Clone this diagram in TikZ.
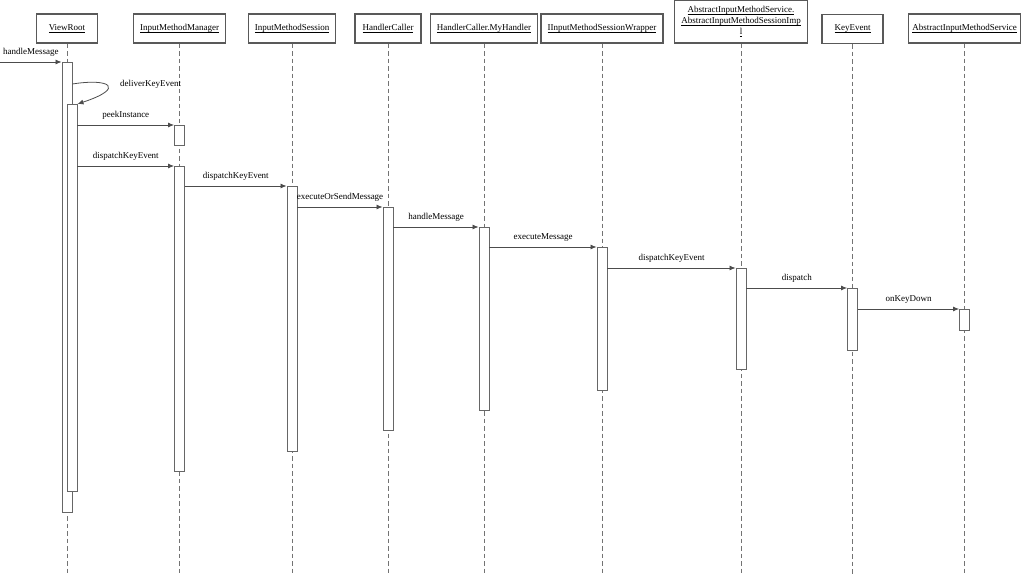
\documentclass[tikz,border=0pt]{standalone}
\usepackage{fontspec}
\setmainfont{Liberation Serif}
\usetikzlibrary{arrows.meta}

% underline with a fixed depth, so stacked lines do not clash
\newcommand\ulname[1]{\setbox0\hbox{#1}\dp0=0.5pt\underline{\box0}}

\tikzset{
	obj/.style={draw=black!65, line width=1.1pt, fill=white, inner sep=1pt, align=center, font=\fontsize{9}{11}\selectfont},
	life/.style={draw=black!55, line width=0.9pt, dash pattern=on 4.5pt off 3pt},
	bar/.style={draw=black!60, line width=0.9pt, fill=white, minimum width=10pt, inner sep=0pt, anchor=north},
	msg/.style={draw=black!70, line width=0.8pt, -{Latex[length=6pt,width=5pt]}},
	lbl/.style={font=\fontsize{9}{11}\selectfont, inner sep=1pt}
}

\begin{document}
\begin{tikzpicture}[x=1pt,y=-1pt]
	
	\useasboundingbox (0,0) rectangle (1024,588);
	
	% objects
	\node[obj, minimum width=61pt, minimum height=29pt] (vr) at (67,28.5) {\ulname{ViewRoot}};
	\node[obj, minimum width=92pt, minimum height=29pt] (imm) at (179.5,28.5) {\ulname{InputMethodManager}};
	\node[obj, minimum width=87pt, minimum height=29pt] (ims) at (292,28.5) {\ulname{InputMethodSession}};
	\node[obj, minimum width=66pt, minimum height=29pt] (hc) at (388,28.5) {\ulname{HandlerCaller}};
	\node[obj, minimum width=107pt, minimum height=29pt] (mh) at (484,28.5) {\ulname{HandlerCaller.MyHandler}};
	\node[obj, minimum width=122pt, minimum height=29pt] (sw) at (602,28.5) {\ulname{IInputMethodSessionWrapper}};
	\node[obj, minimum width=133pt, minimum height=43pt] (as) at (741,21.5) {\ulname{AbstractInputMethodService.}\\\ulname{AbstractInputMethodSessionImp}\\\ulname{l}};
	\node[obj, minimum width=61pt, minimum height=29pt] (ke) at (852.5,29) {\ulname{KeyEvent}};
	\node[obj, minimum width=112pt, minimum height=29pt] (ais) at (964.5,28.5) {\ulname{AbstractInputMethodService}};
	
	% lifelines
	\coordinate (bot) at (0,575);
	\foreach \o in {vr,imm,ims,hc,mh,sw,as,ke,ais}
		\draw[life] (\o.south) -- (\o.south |- bot);
	
	% activations
	\node[bar, minimum height=450pt] (vr1) at (67,62) {};
	\node[bar, minimum height=387pt] (vr2) at (72,104) {};
	\node[bar, minimum height=20pt] (imm1) at (179.5,125) {};
	\node[bar, minimum height=305pt] (imm2) at (179.5,166) {};
	\node[bar, minimum height=265pt] (ims1) at (292,186) {};
	\node[bar, minimum height=223pt] (hc1) at (388,207) {};
	\node[bar, minimum height=183pt] (mh1) at (484,227) {};
	\node[bar, minimum height=143pt] (sw1) at (602,247) {};
	\node[bar, minimum height=101pt] (as1) at (741,268) {};
	\node[bar, minimum height=62pt] (ke1) at (852.5,288) {};
	\node[bar, minimum height=21pt] (ais1) at (964.5,309) {};
	
	% messages
	\coordinate (in) at (0,62);
	\draw[msg] (in) -- node[lbl, above=4pt] {handleMessage} (vr1.north west);
	\draw[msg] ([yshift=-22pt]vr1.north east) .. controls (110,78) and (126,88) .. (vr2.north east);
	\node[lbl, anchor=west] (dke) at (119,84) {deliverKeyEvent};
	\draw[msg] (vr2.east |- imm1.north) -- node[lbl, above=4pt] {peekInstance} (imm1.north west);
	\draw[msg] (vr2.east |- imm2.north) -- node[lbl, above=4pt] {dispatchKeyEvent} (imm2.north west);
	\draw[msg] (imm2.east |- ims1.north) -- node[lbl, above=4pt] {dispatchKeyEvent} (ims1.north west);
	\draw[msg] (ims1.east |- hc1.north) -- node[lbl, above=4pt] {executeOrSendMessage} (hc1.north west);
	\draw[msg] (hc1.east |- mh1.north) -- node[lbl, above=4pt] {handleMessage} (mh1.north west);
	\draw[msg] (mh1.east |- sw1.north) -- node[lbl, above=4pt] {executeMessage} (sw1.north west);
	\draw[msg] (sw1.east |- as1.north) -- node[lbl, above=4pt] {dispatchKeyEvent} (as1.north west);
	\draw[msg] (as1.east |- ke1.north) -- node[lbl, above=4pt] {dispatch} (ke1.north west);
	\draw[msg] (ke1.east |- ais1.north) -- node[lbl, above=4pt] {onKeyDown} (ais1.north west);
	
\end{tikzpicture}
\end{document}
